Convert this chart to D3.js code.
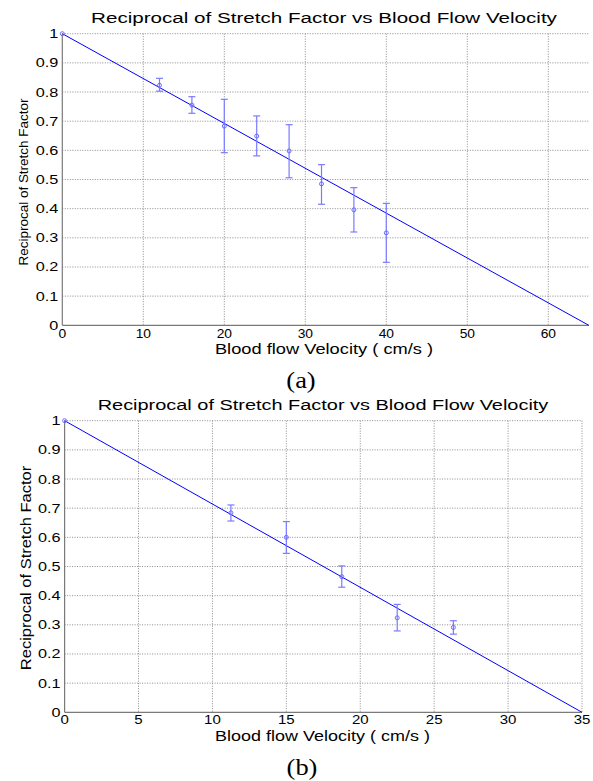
<!DOCTYPE html>
<html>
<head>
  <meta charset="utf-8">
  <script src="https://cdnjs.cloudflare.com/ajax/libs/d3/7.8.5/d3.min.js"></script>
  <style>
    body { margin: 0; background: #fff; }
    text { font-family: "Liberation Sans", Arial, sans-serif; fill: #000; }
    .grid line { stroke: #8c8c8c; stroke-width: 1px; stroke-dasharray: 1,1.5; }
    .axisline { stroke: #7a7a7a; stroke-width: 1.2px; }
    .fit { stroke: #0000ff; stroke-width: 1px; fill: none; }
    .err { stroke: #7b7bff; stroke-width: 1.2px; fill: none; }
    .pt { stroke: #6c6cff; stroke-width: 1px; fill: none; }
  </style>
</head>
<body>
<svg width="593" height="781"></svg>
<script>
  var titleText = "Reciprocal of Stretch Factor vs Blood Flow Velocity";
  var xLabelText = "Blood flow Velocity ( cm/s )";
  var yLabelText = "Reciprocal of Stretch Factor";
  var yTicks = [0, 0.1, 0.2, 0.3, 0.4, 0.5, 0.6, 0.7, 0.8, 0.9, 1];

  // panel (a)
  var velA   = [0, 12, 16, 20, 24, 28, 32, 36, 40];
  var meanA  = [1, 0.823, 0.755, 0.683, 0.649, 0.598, 0.485, 0.396, 0.317];
  var upperA = [1, 0.847, 0.784, 0.775, 0.718, 0.688, 0.551, 0.472, 0.418];
  var lowerA = [1, 0.803, 0.727, 0.592, 0.581, 0.506, 0.415, 0.320, 0.216];
  var fitA   = [[0, 1], [65, 0]];
  var xTicksA = [0, 10, 20, 30, 40, 50, 60];

  // panel (b)
  var velB   = [0, 11.25, 15, 18.75, 22.5, 26.3];
  var meanB  = [1, 0.684, 0.600, 0.465, 0.324, 0.291];
  var upperB = [1, 0.711, 0.654, 0.502, 0.370, 0.314];
  var lowerB = [1, 0.656, 0.545, 0.429, 0.279, 0.268];
  var fitB   = [[0, 1], [35, 0]];
  var xTicksB = [0, 5, 10, 15, 20, 25, 30, 35];

  var svg = d3.select("svg");

  // the original figure's text is a bit stretched sideways
  function label(g, x, y, txt, size, anchor, sx, rot) {
    var t = "translate(" + x + "," + y + ")" + (rot ? " rotate(-90)" : "") + " scale(" + sx + ",1)";
    return g.append("text")
      .attr("transform", t)
      .attr("text-anchor", anchor)
      .style("font-size", size + "px")
      .text(txt);
  }

  function drawPanel(p) {
    var x = d3.scaleLinear().domain(p.xDomain).range([p.left, p.right]);
    var y = d3.scaleLinear().domain([0, 1]).range([p.bottom, p.top]);
    var g = svg.append("g");

    // grid
    var grid = g.append("g").attr("class", "grid");
    grid.selectAll("line.v").data(p.xTicks.filter(d => d > 0)).enter().append("line")
      .attr("x1", d => x(d)).attr("x2", d => x(d))
      .attr("y1", p.top).attr("y2", p.bottom);
    grid.selectAll("line.h").data(yTicks.filter(d => d > 0)).enter().append("line")
      .attr("x1", p.left).attr("x2", p.right)
      .attr("y1", d => y(d)).attr("y2", d => y(d));

    // axes lines
    g.append("line").attr("class", "axisline")
      .attr("x1", p.left).attr("x2", p.left).attr("y1", p.top).attr("y2", p.bottom);
    g.append("line").attr("class", "axisline")
      .attr("x1", p.left).attr("x2", p.right).attr("y1", p.bottom).attr("y2", p.bottom);

    // tick labels
    yTicks.forEach(d => {
      label(g, p.left - 4, y(d) + 4.5, d3.format("")(d), 12.5, "end", 1.3);
    });
    p.xTicks.forEach(d => {
      label(g, x(d), p.bottom + p.xTickDy, d, 12, "middle", p.xTickSx);
    });

    // fit line
    g.append("path").attr("class", "fit")
      .attr("d", d3.line().x(d => x(d[0])).y(d => y(d[1]))(p.fit));

    // error bars
    var pts = p.vel.map((v, i) => ({v: v, m: p.mean[i], hi: p.upper[i], lo: p.lower[i]}));
    var eb = g.append("g").selectAll("g").data(pts.filter(d => d.hi !== d.lo)).enter().append("g");
    eb.append("line").attr("class", "err")
      .attr("x1", d => x(d.v)).attr("x2", d => x(d.v))
      .attr("y1", d => y(d.hi)).attr("y2", d => y(d.lo));
    eb.append("line").attr("class", "err")
      .attr("x1", d => x(d.v) - 3.5).attr("x2", d => x(d.v) + 3.5)
      .attr("y1", d => y(d.hi)).attr("y2", d => y(d.hi));
    eb.append("line").attr("class", "err")
      .attr("x1", d => x(d.v) - 3.5).attr("x2", d => x(d.v) + 3.5)
      .attr("y1", d => y(d.lo)).attr("y2", d => y(d.lo));
    g.append("g").selectAll("circle").data(pts).enter().append("circle")
      .attr("class", "pt")
      .attr("cx", d => x(d.v)).attr("cy", d => y(d.m)).attr("r", 2);

    // titles
    label(g, p.titleX, p.titleY, titleText, p.titleSize, "middle", p.titleSx);
    label(g, p.xLabelX, p.xLabelY, xLabelText, 14.5, "middle", p.xLabelSx);
    label(g, p.yLabelX, p.yLabelY, yLabelText, p.yLabelSize, "middle", p.yLabelSx, true);
    label(g, p.capX, p.capY, p.caption, 23, "middle", 1.15)
      .style("font-family", "'Liberation Serif', 'Times New Roman', serif");
  }

  drawPanel({
    xDomain: [0, 65], left: 62.3, right: 588.8, top: 33.7, bottom: 325.3,
    xTicks: xTicksA, vel: velA, mean: meanA, upper: upperA, lower: lowerA, fit: fitA,
    xTickDy: 12.5, xTickSx: 1.15,
    titleX: 324, titleY: 22.5, titleSize: 15.5, titleSx: 1.33,
    xLabelX: 324, xLabelY: 353.5, xLabelSx: 1.26,
    yLabelX: 28, yLabelY: 182, yLabelSize: 12.5, yLabelSx: 1.08,
    capX: 301, capY: 388, caption: "(a)"
  });

  drawPanel({
    xDomain: [0, 35], left: 64.6, right: 582, top: 420.7, bottom: 712.3,
    xTicks: xTicksB, vel: velB, mean: meanB, upper: upperB, lower: lowerB, fit: fitB,
    xTickDy: 12, xTickSx: 1.25,
    titleX: 323, titleY: 410, titleSize: 15, titleSx: 1.33,
    xLabelX: 322.5, xLabelY: 741, xLabelSx: 1.24,
    yLabelX: 31, yLabelY: 568, yLabelSize: 15, yLabelSx: 1.1,
    capX: 302, capY: 775, caption: "(b)"
  });
</script>
</body>
</html>
